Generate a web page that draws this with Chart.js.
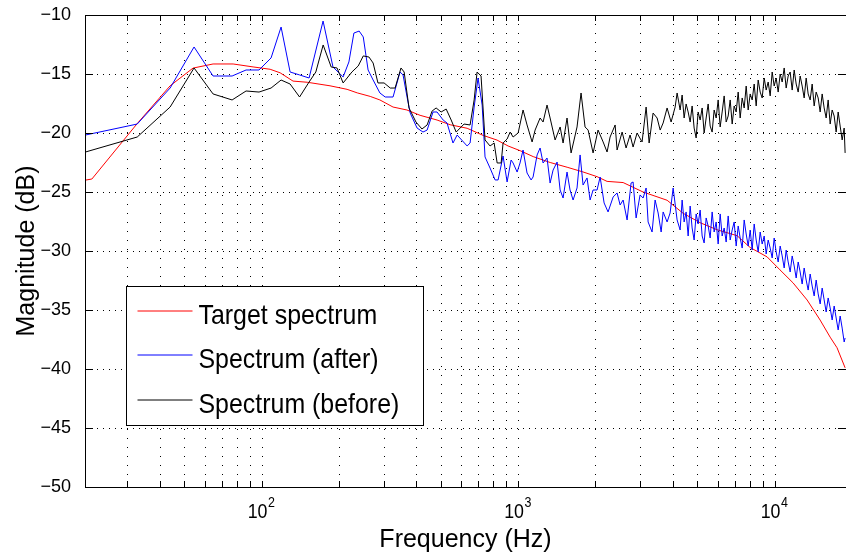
<!DOCTYPE html>
<html>
<head>
<meta charset="utf-8">
<script src="https://cdn.jsdelivr.net/npm/chart.js@4/dist/chart.umd.min.js"></script>
<style>
  html, body { margin: 0; padding: 0; background: #fff; }
  canvas { display: block; }
</style>
</head>
<body>
<canvas id="c" width="846" height="558"></canvas>
<script>
const FONT = "'Liberation Sans', Arial, Helvetica, sans-serif";

// [frequency Hz, magnitude dB]
const target = [
  [20.4,-24.0],[21.7,-23.9],[32.6,-19.2],[43.8,-16.0],[53.8,-14.5],[64.4,-14.15],[77.1,-14.15],
  [92.2,-14.4],[107.5,-14.6],[117.6,-14.9],[132,-15.6],[150,-15.7],[184,-16.0],[214.5,-16.3],
  [235,-16.6],[264,-16.9],[288,-17.2],[324,-17.8],[367,-18.05],[413,-18.5],[481,-18.9],[541,-19.3],
  [630,-19.6],[727,-20.2],[824,-20.6],[910,-21.1],[1014,-21.5],[1140,-22.0],[1328,-22.5],[1546,-22.9],
  [1783,-23.3],[2023,-23.7],[2213,-24.1],[2556,-24.2],[3058,-25.0],[3793,-25.7],[4378,-26.8],
  [5100,-27.6],[5940,-28.2],[7110,-28.7],[7990,-29.7],[9310,-30.5],[10450,-31.6],[11750,-32.7],
  [13330,-34.15],[14980,-35.85],[16390,-37.3],[17440,-38.2],[18750,-39.9]
];

// below ~4.2 kHz
const afterLo = [
  [20.5,-20.17],[32.6,-19.24],[43.8,-16.19],[54.3,-12.71],[64.4,-15.17],[76.4,-15.17],[86.6,-14.66],
  [97.3,-14.66],[108.4,-13.64],[118.6,-11.02],[128.6,-14.83],[140,-15.08],[152.5,-15.34],[172.9,-10.51],
  [189,-14.41],[207,-15.25],[218,-13.98],[228,-11.53],[239,-11.36],[248,-11.86],[259,-14.66],[271,-15.51],
  [288,-16.61],[302,-16.95],[324,-16.95],[345,-14.83],[354.5,-15.08],[367.5,-16.95],[378,-18.31],
  [402,-19.58],[424,-19.92],[440,-19.75],[464,-18.22],[481,-18.22],[508,-18.9],[526,-19.15],[555,-20.85],
  [576,-20.17],[630,-21.1],[647,-20.85],[671,-17.8],[695,-15.34],[721,-17.63],[740,-22.03],[774,-22.97],
  [810,-23.98],[832,-23.98],[870,-21.95],[902,-24.15],[935,-22.29],[952,-22.54],[987,-23.31],[1013,-22.54],
  [1041,-21.44],[1079,-23.39],[1119,-23.98],[1139,-23.73],[1181,-21.86],[1213,-21.27],[1246,-22.54],
  [1291,-22.12],[1327,-24.24],[1363,-23.14],[1413,-22.46],[1452,-24.83],[1491,-25.51],[1545,-23.31],
  [1587,-24.83],[1631,-25.68],[1690,-24.66],[1737,-21.86],[1784,-24.41],[1849,-23.81],[1900,-25.68],
  [1952,-24.83],[2023,-24.83],[2079,-23.73],[2155,-25.93],[2233,-26.69],[2337,-25.42],[2421,-25.08],
  [2488,-26.1],[2556,-25.68],[2649,-27.37],[2745,-24.24],[2795,-24.15],[2872,-27.2],[2976,-25.25],
  [3058,-25.51],[3142,-24.66],[3199,-27.54],[3315,-28.39],[3406,-25.68],[3500,-26.78],[3596,-28.39],
  [3661,-26.69],[3793,-27.54],[3897,-26.78],[4005,-24.66],[4150,-27.37]
];

const beforeLo = [
  [20.5,-21.61],[32.6,-20.34],[43.8,-17.8],[54.3,-14.49],[64.4,-16.69],[76.4,-17.2],[86.6,-16.44],
  [97.3,-16.53],[108.4,-16.19],[118.6,-15.51],[128.6,-15.85],[140,-16.95],[152.5,-15.68],[162,-14.83],
  [173,-12.54],[186,-14.41],[196,-14.49],[207,-15.76],[224,-14.83],[237,-14.32],[248,-13.47],[261,-13.56],
  [271,-14.07],[283,-15.76],[299,-15.76],[316,-16.19],[330,-16.19],[348,-14.49],[358,-14.83],[374,-17.88],
  [398,-19.07],[420,-19.66],[440,-19.32],[460,-18.14],[477,-17.88],[499,-18.22],[522,-17.97],[546,-18.9],
  [571,-19.92],[613,-19.24],[647,-19.32],[671,-17.2],[689,-14.83],[714,-15.17],[740,-20.59],[774,-21.1],
  [803,-20.85],[825,-22.54],[855,-22.54],[870,-20.85],[902,-20.51],[927,-19.92],[952,-20.34],[996,-20.0],
  [1041,-18.05],[1079,-19.32],[1129,-20.76],[1160,-19.75],[1213,-18.73],[1246,-19.07],[1291,-17.63],
  [1327,-18.73],[1388,-20.59],[1452,-19.49],[1491,-20.85],[1545,-18.73],[1602,-21.69],[1690,-19.49],
  [1752,-16.61],[1816,-19.49],[1867,-19.75],[1952,-21.69],[2041,-19.75],[2136,-20.76],[2213,-21.61],
  [2274,-20.34],[2379,-19.32],[2421,-21.44],[2533,-19.92],[2625,-21.27],[2721,-20.17],[2795,-21.19],
  [2897,-20.0],[3030,-20.76],[3142,-17.8],[3228,-20.85],[3345,-18.31],[3468,-18.73],[3564,-19.75],
  [3661,-19.15],[3793,-17.88],[3932,-19.07],[4077,-17.8],[4150,-16.61]
];

// dense band above ~4.2 kHz: shared frequencies, one dB list per series
const hiFreq = [
  4264,4341,4420,4500,4582,4665,4749,4835,4923,5012,5103,5196,5290,5386,5483,5583,5684,5787,5892,5999,
  6108,6218,6331,6446,6563,6682,6803,6926,7052,7180,7310,7442,7577,7714,7854,7996,8141,8289,8439,8592,
  8747,8906,9067,9231,9399,9569,9742,9919,10098,10281,10467,10657,10850,11046,11247,11450,11658,11869,
  12084,12303,12525,12752,12983,13218,13458,13701,13950,14202,14460,14722,14988,15260,15536,15817,
  16104,16395,16692,16994,17302,17615,17934,18259,18590,18750
];
const afterHi = [
  -28.22,-25.68,-27.54,-26.69,-28.73,-26.19,-28.05,-29.07,-26.86,-27.71,
  -26.53,-28.73,-29.32,-27.2,-27.88,-28.9,-26.69,-28.39,-27.54,-29.41,
  -26.86,-28.73,-28.05,-29.24,-27.03,-29.07,-28.22,-27.54,-29.58,-27.88,
  -28.9,-29.75,-27.37,-28.56,-29.58,-28.22,-29.92,-27.71,-29.07,-30.08,
  -28.39,-29.41,-28.73,-30.25,-29.07,-29.75,-30.59,-28.9,-30.08,-30.93,
  -29.58,-30.42,-31.44,-29.92,-30.93,-31.78,-30.42,-31.27,-32.29,-30.93,
  -31.78,-32.8,-31.44,-32.46,-33.31,-31.95,-32.97,-33.81,-32.46,-33.64,
  -34.49,-33.14,-34.15,-35.17,-33.98,-34.83,-35.85,-34.66,-35.68,-36.69,
  -35.51,-36.53,-37.71,-37.37
];
const beforeHi = [
  -18.05,-16.78,-18.73,-17.54,-18.22,-19.07,-17.71,-19.58,-20.42,-18.22,
  -18.9,-17.88,-20.0,-18.73,-17.54,-19.41,-19.92,-18.05,-18.73,-17.2,
  -19.49,-18.22,-16.86,-19.07,-18.56,-17.2,-19.24,-17.71,-18.22,-16.53,
  -18.73,-17.03,-17.88,-16.02,-18.05,-16.69,-17.2,-15.85,-17.71,-15.51,
  -16.53,-17.03,-15.34,-16.36,-15.68,-16.86,-14.83,-16.02,-15.34,-16.53,
  -15.0,-15.68,-14.49,-16.19,-15.17,-14.83,-16.36,-14.66,-15.85,-16.53,
  -15.17,-16.02,-17.03,-15.34,-16.69,-17.2,-15.85,-17.71,-16.53,-17.03,
  -18.22,-16.69,-17.88,-18.73,-17.2,-19.24,-18.05,-18.56,-19.92,-18.22,
  -19.41,-20.59,-19.58,-21.69
];

const seriesLabels = ['Target spectrum', 'Spectrum (after)', 'Spectrum (before)'];
const seriesColors = ['#ff0000', '#0000ff', '#000000'];

// log grid: every 1..9 x decade, labels only on decades
const xGridTicks = [30, 40, 50, 60, 70, 80, 90, 100, 200, 300, 400, 500, 600, 700, 800, 900,
  1000, 2000, 3000, 4000, 5000, 6000, 7000, 8000, 9000, 10000];
const xLabelTicks = [[100, '2'], [1000, '3'], [10000, '4']];
const yTicks = [-50, -45, -40, -35, -30, -25, -20, -15, -10];

// draws condensed text like the matlab export
function squeezeText(ctx, txt, x, y, size) {
  ctx.save();
  ctx.font = size + 'px ' + FONT;
  ctx.translate(x, y);
  ctx.scale(0.89, 1);
  ctx.textAlign = 'left';
  ctx.textBaseline = 'alphabetic';
  ctx.fillText(txt, 0, 0);
  ctx.restore();
}

const frame = {
  id: 'frame',
  afterDatasetsDraw(chart) {
    const { ctx, chartArea: a, scales: { x, y } } = chart;
    ctx.save();
    ctx.strokeStyle = '#000';
    ctx.lineWidth = 1;
    ctx.beginPath();
    xGridTicks.forEach(v => {
      const px = Math.round(x.getPixelForValue(v) + 0.5) - 0.5;
      ctx.moveTo(px, a.bottom); ctx.lineTo(px, a.bottom - 6);
      ctx.moveTo(px, a.top); ctx.lineTo(px, a.top + 6);
    });
    yTicks.forEach(v => {
      const py = Math.round(y.getPixelForValue(v) + 0.5) - 0.5;
      ctx.moveTo(a.left, py); ctx.lineTo(a.left + 8, py);
      ctx.moveTo(a.right, py); ctx.lineTo(a.right - 8, py);
    });
    ctx.stroke();
    ctx.strokeRect(Math.round(a.left) + 0.5, Math.round(a.top) + 0.5,
      Math.round(a.right - a.left), Math.round(a.bottom - a.top));

    // decade labels 10^n
    ctx.fillStyle = '#000';
    xLabelTicks.forEach(([v, e]) => {
      const px = x.getPixelForValue(v);
      ctx.font = '20px ' + FONT;
      const wb = ctx.measureText('10').width * 0.89;
      ctx.font = '14px ' + FONT;
      const we = ctx.measureText(e).width * 0.89;
      const x0 = px - (wb + we) / 2 - 1;
      squeezeText(ctx, '10', x0, a.bottom + 31, 20);
      squeezeText(ctx, e, x0 + wb + 0.5, a.bottom + 20, 14);
    });
    ctx.restore();
  },
  afterDraw(chart) {
    const { ctx, chartArea: a } = chart;
    const bx = Math.round(a.left + 41) + 0.5, by = Math.round(a.top + 271) + 0.5;
    const bw = 297, bh = 139;
    ctx.save();
    ctx.fillStyle = '#fff';
    ctx.fillRect(bx, by, bw, bh);
    ctx.strokeStyle = '#000';
    ctx.lineWidth = 1;
    ctx.strokeRect(bx, by, bw, bh);
    seriesLabels.forEach((label, i) => {
      const ly = Math.round(by + 24 + i * 44.5);
      ctx.beginPath();
      ctx.strokeStyle = seriesColors[i];
      ctx.moveTo(bx + 11, ly);
      ctx.lineTo(bx + 66, ly);
      ctx.stroke();
      ctx.fillStyle = '#000';
      squeezeText(ctx, label, bx + 72, ly + 13, 28);
    });
    ctx.restore();
  }
};

const toXY = arr => arr.map(([f, db]) => ({ x: f, y: db }));
const hiXY = vals => hiFreq.map((f, i) => ({ x: f, y: vals[i] }));

new Chart(document.getElementById('c'), {
  type: 'line',
  data: {
    datasets: [
      { label: seriesLabels[0], data: toXY(target), borderColor: seriesColors[0], order: 2 },
      { label: seriesLabels[1], data: toXY(afterLo).concat(hiXY(afterHi)), borderColor: seriesColors[1], order: 1 },
      { label: seriesLabels[2], data: toXY(beforeLo).concat(hiXY(beforeHi)), borderColor: seriesColors[2], order: 0 }
    ]
  },
  options: {
    responsive: false,
    animation: false,
    events: [],
    layout: { padding: { top: 15, right: 0, bottom: 0, left: 0 } },
    elements: {
      line: { borderWidth: 1, tension: 0, fill: false },
      point: { radius: 0 }
    },
    plugins: {
      legend: { display: false },
      tooltip: { enabled: false }
    },
    scales: {
      x: {
        type: 'logarithmic',
        min: 20.4,
        max: 18900,
        afterBuildTicks: s => { s.ticks = xGridTicks.map(v => ({ value: v })); },
        afterFit: s => { s.height = 71; s.paddingLeft = 0; s.paddingRight = 0; },
        ticks: { display: false },
        grid: { color: '#000', lineWidth: 1, drawTicks: false },
        border: { display: false, dash: [1, 8] },
        title: {
          display: true, text: 'Frequency (Hz)', color: '#000',
          font: { family: FONT, size: 25 }, padding: { top: 0, bottom: 3 }
        }
      },
      y: {
        min: -50,
        max: -10,
        afterBuildTicks: s => { s.ticks = yTicks.map(v => ({ value: v })); },
        afterFit: s => { s.width = 85; s.paddingTop = 0; s.paddingBottom = 0; },
        ticks: {
          color: '#000', padding: 14,
          font: { family: FONT, size: 18 },
          callback: v => (v < 0 ? '\u2212' : '') + Math.abs(v)
        },
        grid: { color: '#000', lineWidth: 1, drawTicks: false },
        border: { display: false, dash: [1, 5] },
        title: {
          display: true, text: 'Magnitude (dB)', color: '#000',
          font: { family: FONT, size: 25 }, padding: { top: 12, bottom: 0 }
        }
      }
    }
  },
  plugins: [frame]
});
</script>
</body>
</html>
